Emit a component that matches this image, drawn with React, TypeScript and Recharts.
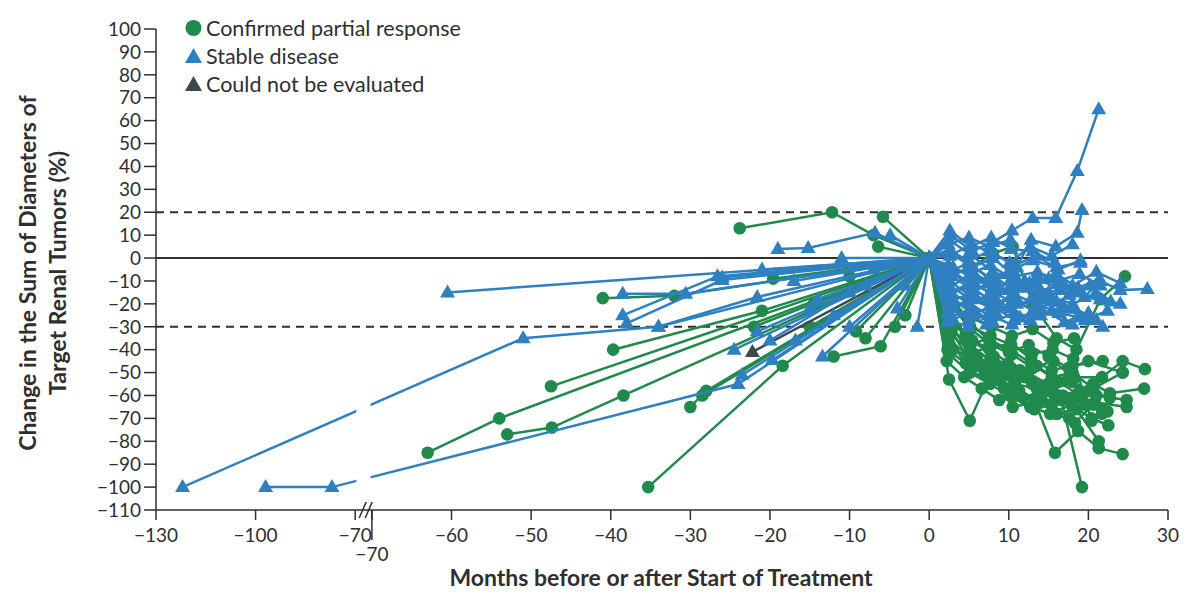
import React from "react";
import { Label, Legend, ReferenceArea, ReferenceLine, Scatter, ScatterChart, XAxis, YAxis } from "recharts";

const GREEN = "#1f8a4c";
const BLUE = "#2f80c1";
const GREY = "#3d484e";
const INK = "#2f2f2f";
const FONT = "Lato, 'Open Sans', sans-serif";

type Path = [number, number][];

// each path: [months from start of treatment, % change in sum of diameters]
const partialResponse: Path[] = [
  [[-63, -85], [-54, -70], [0, 0], [2.5, -34], [5.1, -50], [8.5, -53], [11, -58], [13.5, -62], [16, -68], [18.5, -66], [21.3, -80]],
  [[-47.5, -56], [0, 0], [2.6, -22], [5.2, -38], [7.8, -45], [10.4, -52], [13, -55], [15.6, -59], [18.2, -61], [20.8, -63], [24.8, -65]],
  [[-53, -77], [-47.4, -74], [-38.4, -60], [0, 0], [2.5, -53], [5.1, -71], [7.8, -50], [10.5, -65], [13.3, -63]],
  [[-30, -65], [-28, -58], [0, 0], [2.7, -30], [5.4, -42], [8.1, -47], [10.8, -55], [13.5, -57], [16.2, -60], [18.9, -58], [21.7, -68]],
  [[-35.3, -100], [-18.4, -47], [0, 0], [2.6, -38], [5.3, -45], [8, -52], [10.6, -56], [13.3, -63], [15.8, -85], [18.7, -75.5], [21.3, -83], [24.3, -85.6]],
  [[-41, -17.5], [-32, -16.5], [0, 0], [2.4, -15], [5, -28], [7.6, -36], [10.2, -40], [12.8, -46], [15.4, -52], [18, -50], [20.6, -57], [24.3, -50]],
  [[-39.7, -40], [-21, -23], [0, 0], [2.5, -33], [5.1, -40], [7.7, -44], [10.3, -48], [12.9, -54], [15.5, -58], [18, -62], [20.6, -55], [22.7, -59], [27, -57]],
  [[-23.8, 13], [-12.2, 20], [-7, 10], [0, 0], [2.6, -20], [5.2, -31], [7.8, -38], [10.4, -42], [13, -48], [15.6, -45], [18.2, -52], [21.7, -52], [24.3, -45], [27.1, -48.5]],
  [[-5.8, 18], [0, 0], [2.5, -26], [5, -35], [7.6, -40], [10.2, -37], [12.8, -44], [15.4, -49], [18, -47], [21.8, -45]],
  [[-19.6, -9], [0, 0], [2.7, -28], [5.4, -36], [8.1, -43], [10.8, -50], [13.5, -47], [16.2, -54], [19, -60], [21.7, -66]],
  [[-12, -43], [-6.1, -38.5], [0, 0], [2.3, -40], [4.6, -46], [7, -51], [9.4, -57], [11.8, -61], [14.2, -58], [16.6, -62], [19.2, -100]],
  [[-9.2, -32], [0, 0], [2.5, -18], [5.1, -30], [7.7, -34], [10.3, -38], [12.9, -42], [15.5, -40], [18.1, -44], [20.4, -71]],
  [[-4.3, -30], [0, 0], [2.4, -36], [4.9, -42], [7.4, -39], [9.9, -46], [12.4, -50], [14.9, -55], [17.4, -53], [20, -58], [22.7, -61]],
  [[-6.4, 5], [0, 0], [2.6, -8], [5.3, -4], [8, 2], [10.5, 5], [13, -20], [16, -35], [18.5, -40], [21.5, -18], [24.6, -8]],
  [[-28.5, -60], [0, 0], [2.5, -42], [5.1, -50], [7.6, -55], [10.1, -60], [12.7, -65], [15.2, -68], [17.8, -64], [20.4, -70], [22.5, -73]],
  [[-22, -30], [0, 0], [2.8, -32], [5.6, -47.5], [8.5, -53], [11.3, -58], [14, -63], [16.8, -60], [19.6, -64], [22.4, -67]],
  [[-14.5, -20], [0, 0], [2.3, -24], [4.6, -33], [6.8, -47.5], [9.1, -52], [11.4, -49], [13.7, -56], [16, -68], [18.3, -72], [20.6, -64]],
  [[-10, -8], [0, 0], [2.5, -30], [5, -38], [7.5, -35], [10, -41], [12.5, -38], [15, -43], [17.5, -48], [20, -45], [24.3, -50]],
  [[-15, -30], [0, 0], [2.6, -20], [5.2, -26], [7.8, -30], [10.4, -34], [13, -31], [15.6, -37], [18.2, -35]],
  [[-3, -25], [0, 0], [2.2, -45], [4.4, -52], [6.6, -57], [8.8, -62], [11, -60], [13.2, -66], [15.4, -64], [17.6, -70]],
  [[-8, -35], [0, 0], [3, -40], [6, -44], [9, -48], [12, -52], [15, -58], [18, -54], [21, -60], [24.8, -62]]
];

const notEvaluated: Path[] = [[[-22.2, -41], [0, 0]]];

const stableDisease: Path[] = [
  [[-122, -100], [-51, -35], [-34, -30], [0, 0], [2.6, -5], [5.5, -12], [8, -15], [11, -20], [14, -18], [17, -22], [20, -25], [21.8, -30]],
  [[-97, -100], [-77, -100], [-24, -55], [0, 0], [2.5, 8], [5, 2], [8, -6], [11, -10], [14, -14], [17, -12], [19.5, -17], [21.5, -10], [24, -14], [27.4, -13.5]],
  [[-60.5, -15], [0, 0], [2.7, 10], [5.4, 3], [8, 7], [10.4, 12], [13, 17.5], [15.9, 17.5], [18.6, 38], [21.3, 65]],
  [[-38.5, -15.6], [-30.6, -15.6], [0, 0], [2.8, -8], [5.6, -14], [8.3, -10], [11, -4], [12.8, 8], [15.9, 5], [18.6, 11], [19.2, 21]],
  [[-38.5, -25], [-26.6, -8], [0, 0], [2.5, -12], [5.3, -18], [8, -22], [10.7, -16], [13.5, -20], [16.3, -24], [19, -26]],
  [[-38, -28.5], [-26, -9.6], [0, 0], [2.6, 4], [5.2, -3], [7.8, -9], [10.5, -5], [13, -1], [16, -4], [19, -2]],
  [[-34, -30], [-21.6, -17], [0, 0], [3, -18], [5.8, -24], [8.6, -20], [11.4, -26], [14, -22], [17, -28], [20, -24]],
  [[-23.5, -51], [0, 0], [2.5, -20], [5, -27], [7.6, -25], [10.4, -29]],
  [[-21.6, -32], [0, 0], [2.4, -3], [5.1, -8], [7.9, -13], [10.6, -11], [13.3, -16], [16, -19], [18.8, -15], [21.5, -18], [24, -20]],
  [[-20, -36], [-10, -15], [0, 0], [2.8, -15], [5.5, -10], [8.2, -17], [11, -13], [13.7, -9], [16.4, -14]],
  [[-19.7, -44.5], [0, 0], [2.6, -26], [5.3, -22], [8, -28], [10.7, -24]],
  [[-16.8, -36], [0, 0], [2.5, -10], [5, -16], [7.6, -21], [10.2, -17], [13, -23], [15.6, -19], [18.3, -22], [21, -27]],
  [[-13.4, -43], [0, 0], [2.3, -28], [4.8, -24], [7.2, -29]],
  [[-1.5, -30], [0, 0], [2.5, -6], [5, -2], [7.5, -9], [10, -6]],
  [[-19, 4], [-15.2, 4.4], [-6.8, 11], [0, 0], [2.6, 12], [5.2, 5], [7.8, 9], [10.3, 4], [13, 3], [15.8, -2]],
  [[-11, 0], [0, 0], [2.7, 2], [5.4, -4], [8, 0], [10.8, -8], [13.6, -6], [16.2, -10], [18.9, -7], [21.5, -12]],
  [[-4.9, 10], [0, 0], [2.4, 6], [5, 9], [7.6, 5], [10.2, 8]],
  [[-26, -8.5], [0, 0], [2.4, -14], [5, -20], [7.5, -16], [10.2, -22], [12.8, -18]],
  [[-21, -5], [0, 0], [2.3, -24], [4.8, -19], [7.4, -25], [10, -21], [12.7, -27], [15.4, -23], [18, -29]],
  [[-15, -22], [0, 0], [2.6, -6], [5.2, -12], [7.8, -7], [10.5, -14], [13.2, -10], [16, -7], [18.7, -13], [21.4, -9]],
  [[-8, -12], [0, 0], [2.5, -16], [5, -12], [7.5, -18], [10, -14], [12.6, -11], [15.3, -17], [18, -20], [20.8, -16]],
  [[-12, -25], [0, 0], [2.8, -22], [5.6, -17], [8.4, -24], [11.2, -19], [14, -25], [16.8, -21], [19.6, -27], [22.4, -23]],
  [[-4, -22], [0, 0], [2.6, 1], [5.3, 6], [8, 2], [10.8, -3], [13.5, 1], [16.2, -5], [19, -1]],
  [[-7, -5], [0, 0], [2.4, -9], [4.9, -4], [7.4, -11], [9.9, -7], [12.4, -13], [15, -9], [17.6, -16], [20.2, -12], [22.8, -19]],
  [[-17, -10], [0, 0], [2.7, -19], [5.4, -15], [8, -21], [10.7, -27], [13.4, -25]],
  [[-10, -30], [0, 0], [2.5, 3], [5, -1], [7.6, 3], [10.1, -2], [12.7, 5], [15.4, 1], [18, 6]],
  [[-24.5, -40], [0, 0], [2.6, -13], [5.1, -7], [7.7, -3], [10.3, -9]],
  [[-3, -12], [0, 0], [2.4, -27], [4.9, -30]],
  [[-14, -18], [0, 0], [3, -4], [6, -9], [9, -14], [12, -10], [15, -15], [18, -12], [21, -6], [24, -11]]
];

const yTicks = [100, 90, 80, 70, 60, 50, 40, 30, 20, 10, 0, -10, -20, -30, -40, -50, -60, -70, -80, -90, -100, -110];
const leftTickMonths = [-130, -100, -70];
const rightTickMonths = [-70, -60, -50, -40, -30, -20, -10, 0, 10, 20, 30];

const legendItems = [
  { label: "Confirmed partial response", color: GREEN, shape: "circle" },
  { label: "Stable disease", color: BLUE, shape: "triangle" },
  { label: "Could not be evaluated", color: GREY, shape: "triangle" }
];

// broken x axis: months before -70 are squeezed into a short left segment
const K = 0.417;
const GAP = 2.1;
const leftPos = (m: number) => -70 - GAP + (m + 70) * K;
const toAxis = (m: number) => (m < -70 ? leftPos(m) : m);
const X_MIN = leftPos(-130);

const xTicks = [
  ...leftTickMonths.map((m) => ({ at: leftPos(m), month: m, kind: m === -70 ? "break" : "" })),
  ...rightTickMonths.map((m) => ({ at: m, month: m, kind: m === -70 ? "low" : "" }))
];

const fmt = (v: number) => (v < 0 ? `\u2212${-v}` : `${v}`);
const toPoints = (p: Path) => p.map(([m, v]) => ({ x: toAxis(m), y: v }));

const circleShape = (color: string) => (props: any) => <circle cx={props.cx} cy={props.cy} r={6.3} fill={color} />;
const triangleShape = (color: string) => (props: any) => {
  const { cx, cy } = props;
  return <polygon points={`${cx},${cy - 8} ${cx - 7.5},${cy + 5} ${cx + 7.5},${cy + 5}`} fill={color} />;
};

const XTick = (props: any) => {
  const t = xTicks[props.index];
  if (!t) return null;
  const { x, y } = props;
  const axisY = y - 19;
  return (
    <g>
      {t.kind === "low" && <line x1={x} x2={x} y1={axisY} y2={axisY + 30} stroke={INK} strokeWidth={1.5} />}
      {t.kind === "break" && (
        <g stroke={INK} strokeWidth={1.5}>
          <line x1={x + 4} y1={axisY + 8} x2={x + 11} y2={axisY - 8} />
          <line x1={x + 10} y1={axisY + 8} x2={x + 17} y2={axisY - 8} />
        </g>
      )}
      <text x={x} y={y + (t.kind === "low" ? 19 : 0)} dy="0.71em" textAnchor="middle" fontSize={19} fill={INK} fontFamily={FONT}>
        {fmt(t.month)}
      </text>
    </g>
  );
};

const YTitle = () => (
  <g fontFamily={FONT} fontSize={23} fontWeight={700} fill={INK}>
    <text transform="translate(36,273) rotate(-90)" textAnchor="middle">Change in the Sum of Diameters of</text>
    <text transform="translate(66,273) rotate(-90)" textAnchor="middle">Target Renal Tumors (%)</text>
  </g>
);

const XTitle = () => (
  <text x={661} y={586} textAnchor="middle" fontFamily={FONT} fontSize={23} fontWeight={700} fill={INK}>
    Months before or after Start of Treatment
  </text>
);

// zero-height box so the legend does not shrink the plot
const LegendBox = () => (
  <div style={{ height: 0, overflow: "visible", fontFamily: FONT, fontSize: 21.5, color: INK }}>
    {legendItems.map((item) => (
      <div key={item.label} style={{ display: "flex", alignItems: "center", height: 28, whiteSpace: "nowrap" }}>
        <svg width={19} height={18} style={{ marginRight: 3 }}>
          {item.shape === "circle" ? (
            <circle cx={9.5} cy={9} r={8} fill={item.color} />
          ) : (
            <polygon points="9.5,1 1,16 18,16" fill={item.color} />
          )}
        </svg>
        <span>{item.label}</span>
      </div>
    ))}
  </div>
);

export default function App() {
  return (
    <div style={{ position: "absolute", left: 0, top: 0, width: 1200, height: 603, background: "#fff" }}>
      <ScatterChart width={1200} height={603} margin={{ top: 29, right: 32, bottom: 33, left: 86 }}>
        <XAxis
          type="number"
          dataKey="x"
          domain={[X_MIN, 30]}
          ticks={xTicks.map((t) => t.at)}
          interval={0}
          tick={<XTick />}
          tickSize={10}
          tickMargin={9}
          height={60}
          axisLine={{ stroke: INK, strokeWidth: 1.5 }}
          tickLine={{ stroke: INK, strokeWidth: 1.5 }}
        >
          <Label content={<XTitle />} />
        </XAxis>
        <YAxis
          type="number"
          dataKey="y"
          domain={[-110, 100]}
          ticks={yTicks}
          interval={0}
          width={70}
          tickSize={12}
          tickMargin={3}
          tickFormatter={fmt}
          tick={{ fontSize: 19, fill: INK, fontFamily: FONT }}
          axisLine={{ stroke: INK, strokeWidth: 1.5 }}
          tickLine={{ stroke: INK, strokeWidth: 1.5 }}
        >
          <Label content={<YTitle />} />
        </YAxis>
        <ReferenceLine y={0} stroke={INK} strokeWidth={2} segment={[{ x: X_MIN, y: 0 }, { x: 28.2, y: 0 }]} />
        <ReferenceLine y={20} stroke={INK} strokeWidth={1.8} strokeDasharray="8 6" segment={[{ x: X_MIN, y: 20 }, { x: 28.2, y: 20 }]} />
        <ReferenceLine y={-30} stroke={INK} strokeWidth={1.8} strokeDasharray="8 6" segment={[{ x: X_MIN, y: -30 }, { x: 28.2, y: -30 }]} />
        {partialResponse.map((p, i) => (
          <Scatter
            key={`pr-${i}`}
            data={toPoints(p)}
            line={{ stroke: GREEN, strokeWidth: 2.5 }}
            lineType="joint"
            shape={circleShape(GREEN)}
            isAnimationActive={false}
          />
        ))}
        {notEvaluated.map((p, i) => (
          <Scatter
            key={`ne-${i}`}
            data={toPoints(p)}
            line={{ stroke: GREY, strokeWidth: 2.5 }}
            lineType="joint"
            shape={triangleShape(GREY)}
            isAnimationActive={false}
          />
        ))}
        {stableDisease.map((p, i) => (
          <Scatter
            key={`sd-${i}`}
            data={toPoints(p)}
            line={{ stroke: BLUE, strokeWidth: 2.5 }}
            lineType="joint"
            shape={triangleShape(BLUE)}
            isAnimationActive={false}
          />
        ))}
        <ReferenceArea
          x1={leftPos(-70) + 0.15}
          x2={-70.15}
          y1={-108.5}
          y2={-40}
          fill="#fff"
          fillOpacity={1}
          stroke="none"
          ifOverflow="visible"
          zIndex={1000}
        />
        <Legend
          verticalAlign="top"
          align="left"
          content={<LegendBox />}
          wrapperStyle={{ left: 184, top: 14, width: "auto", height: 0 }}
        />
      </ScatterChart>
    </div>
  );
}
